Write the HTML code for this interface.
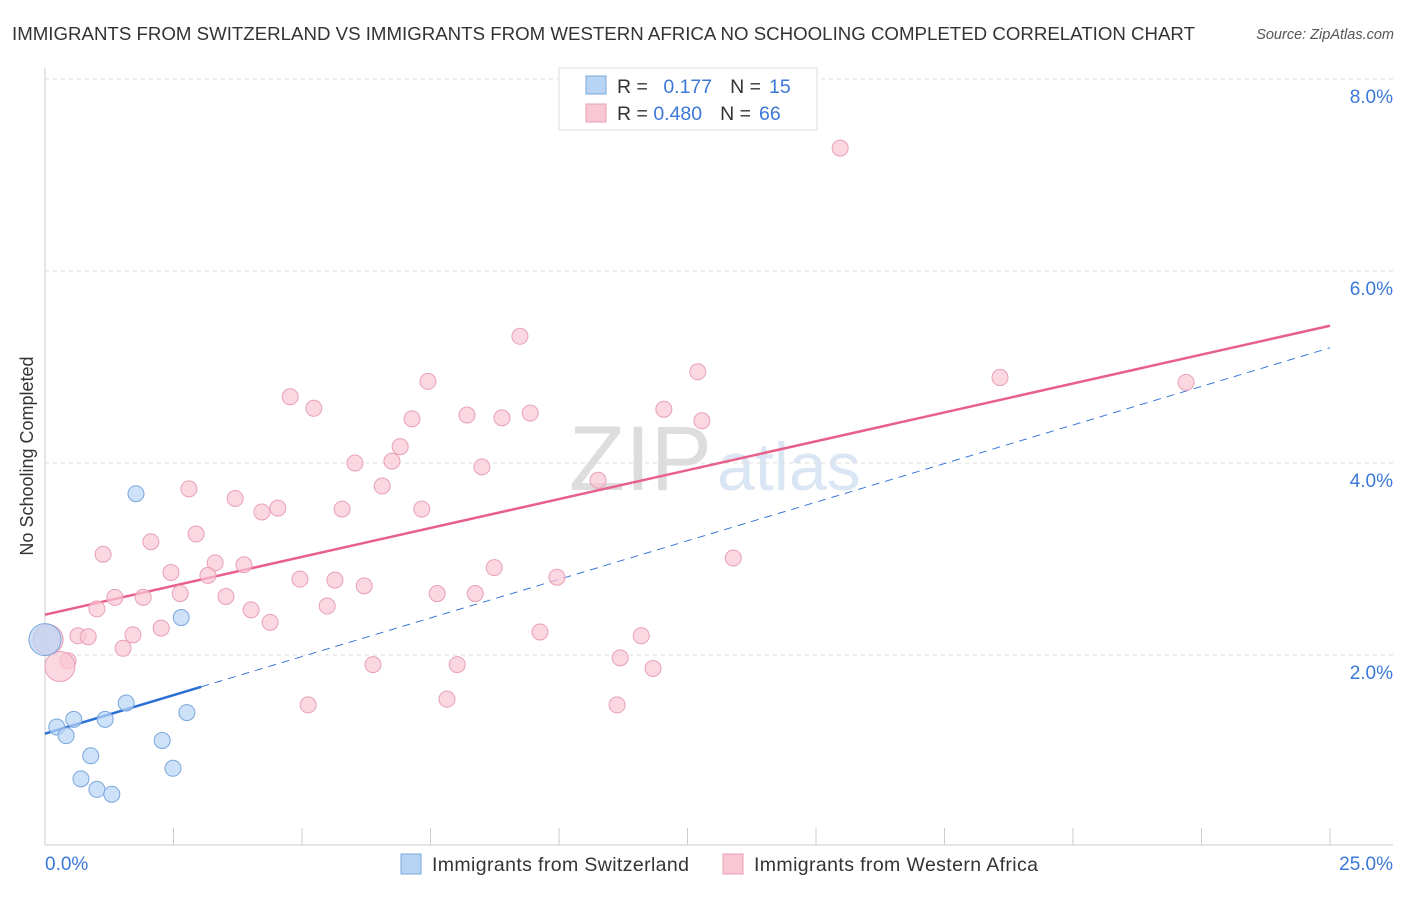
<!DOCTYPE html>
<html><head><meta charset="utf-8"><style>
body{margin:0;background:#fff;font-family:"Liberation Sans",sans-serif;}
svg text{font-family:"Liberation Sans",sans-serif;}
</style></head><body>
<svg width="1406" height="892" viewBox="0 0 1406 892">
<text x="12" y="40" font-size="18" fill="#333" textLength="1183" lengthAdjust="spacingAndGlyphs">IMMIGRANTS FROM SWITZERLAND VS IMMIGRANTS FROM WESTERN AFRICA NO SCHOOLING COMPLETED CORRELATION CHART</text>
<text x="1394" y="39" font-size="14.5" fill="#555" font-style="italic" text-anchor="end">Source: ZipAtlas.com</text>
<text x="712" y="490" font-size="92" fill="#ddd" font-family="Liberation Serif" text-anchor="end">ZIP</text>
<text x="717" y="490" font-size="68" fill="#dbe6f5">atlas</text>
<g id="grid"></g>
<g id="axes"></g>
<g id="trend"></g>
<g id="pts"></g>
<text x="33" y="456" font-size="18" fill="#333" text-anchor="middle" transform="rotate(-90 33 456)">No Schooling Completed</text>
<g>
<rect x="559" y="68" width="258" height="62" fill="#fff" stroke="#ddd"/>
<rect x="586" y="76" width="20" height="18" fill="#b8d4f5" stroke="#7aa6dd"/>
<rect x="586" y="104" width="20" height="18" fill="#f9c6d4" stroke="#e8a0b6"/>
<text x="617" y="93" font-size="19.5" fill="#333">R = <tspan fill="#3c78d8" dx="10">0.177</tspan><tspan dx="18">N =</tspan><tspan fill="#3c78d8" dx="8">15</tspan></text>
<text x="617" y="120" font-size="19.5" fill="#333">R = <tspan fill="#3c78d8">0.480</tspan><tspan dx="18">N =</tspan><tspan fill="#3c78d8" dx="8">66</tspan></text>
</g>
<g>
<rect x="401" y="854" width="20" height="20" fill="#b8d4f5" stroke="#7aa6dd"/>
<text x="432" y="871" font-size="19.5" fill="#333" textLength="257">Immigrants from Switzerland</text>
<rect x="723" y="854" width="20" height="20" fill="#f9c6d4" stroke="#e8a0b6"/>
<text x="754" y="871" font-size="19.5" fill="#333" textLength="284">Immigrants from Western Africa</text>
</g>
</svg>
<script>
const xTicks=[0,2.5,5,7.5,10,12.5,15,17.5,20,22.5,25];
const yTicks=[2,4,6,8];
const yTickLabels=["2.0%","4.0%","6.0%","8.0%"];
const xTickLabels=["0.0%","25.0%"];
const pinkX=[15.47,9.24,12.70,18.58,22.20,7.45,4.77,5.23,12.04,8.21,8.89,9.44,7.14,12.78,6.91,6.75,6.03,8.50,6.56,10.76,2.80,3.70,4.53,4.22,5.78,7.33,2.94,2.06,1.13,13.39,3.31,3.87,2.45,8.74,3.17,4.96,5.64,9.96,6.21,2.63,1.36,1.91,3.52,7.63,8.37,1.01,5.49,4.01,4.38,2.26,1.71,0.64,0.84,9.63,11.60,1.52,0.45,11.19,8.02,6.38,11.83,7.82,5.12,11.13];
const pinkY=[7.28,5.32,4.95,4.89,4.84,4.85,4.69,4.57,4.56,4.50,4.47,4.52,4.46,4.44,4.17,4.02,4.00,3.96,3.76,3.82,3.73,3.63,3.53,3.49,3.52,3.52,3.26,3.18,3.05,3.01,2.96,2.94,2.86,2.91,2.83,2.79,2.78,2.81,2.72,2.64,2.60,2.60,2.61,2.64,2.64,2.48,2.51,2.47,2.34,2.28,2.21,2.20,2.19,2.24,2.20,2.07,1.94,1.97,1.90,1.90,1.86,1.54,1.48,1.48];
const pinkBigX=[0.29,0.06];
const pinkBigY=[1.88,2.16];
const blueX=[1.77,2.65,1.58,0.56,0.23,1.17,2.76,0.41,2.28,0.89,2.49,0.70,1.01,1.30];
const blueY=[3.68,2.39,1.50,1.33,1.25,1.33,1.40,1.16,1.11,0.95,0.82,0.71,0.60,0.55];
const blueBigX=[0];
const blueBigY=[2.16];
const pinkTrend=[2.42,5.43];
const blueTrend=[1.18,5.20];
const blueSolidEnd=3.04;
const X=v=>45+v*51.4, Y=v=>847-v*96;
const NS="http://www.w3.org/2000/svg";
function mk(p,t,a){const e=document.createElementNS(NS,t);for(const k in a)e.setAttribute(k,a[k]);p.appendChild(e);return e;}
const grid=document.getElementById('grid'),axes=document.getElementById('axes'),trend=document.getElementById('trend'),pts=document.getElementById('pts');
yTicks.forEach((v,i)=>{
 const l=mk(grid,'line',{x1:45,x2:1393,y1:Y(v),y2:Y(v),stroke:'#ddd','stroke-dasharray':'4,4'});
 
 
 const t=mk(axes,'text',{x:1393,y:Y(v)+24,'font-size':19,fill:'#3c78d8','text-anchor':'end'});t.textContent=yTickLabels[i];
 
 
});
mk(axes,'line',{x1:45,x2:45,y1:68,y2:845,stroke:'#ccc'});
mk(axes,'line',{x1:45,x2:1393,y1:845,y2:845,stroke:'#ccc'});
xTicks.forEach(v=>{const l=mk(axes,'line',{x1:X(v),x2:X(v),y1:828,y2:845,stroke:'#ccc'});
 
 });
const t0=mk(axes,'text',{x:45,y:870,'font-size':19,fill:'#3c78d8'});t0.textContent=xTickLabels[0];


const t1=mk(axes,'text',{x:1393,y:870,'font-size':19,fill:'#3c78d8','text-anchor':'end'});t1.textContent=xTickLabels[1];


function dot(x,y,r,fill,stroke,name){const c=mk(pts,'circle',{cx:X(x),cy:Y(y),r:r,fill:fill,stroke:stroke,'stroke-width':1,'fill-opacity':0.7});
 
 }
pinkX.forEach((x,i)=>dot(x,pinkY[i],8,'#f9c6d4','#e8a0b6','point-western-africa'));
pinkBigX.forEach((x,i)=>dot(x,pinkBigY[i],15,'#f9c6d4','#e8a0b6','point-western-africa'));
blueBigX.forEach((x,i)=>dot(x,blueBigY[i],16,'#b8d4f5','#7aa6dd','point-switzerland'));
blueX.forEach((x,i)=>dot(x,blueY[i],8,'#b8d4f5','#7aa6dd','point-switzerland'));
const bAt=v=>blueTrend[0]+(blueTrend[1]-blueTrend[0])*v/25;
const l1=mk(trend,'line',{x1:X(0),y1:Y(pinkTrend[0]),x2:X(25),y2:Y(pinkTrend[1]),stroke:'#e8608a','stroke-width':2.5});


const l2=mk(trend,'line',{x1:X(blueSolidEnd),y1:Y(bAt(blueSolidEnd)),x2:X(25),y2:Y(bAt(25)),stroke:'#3c78d8','stroke-width':1,'stroke-dasharray':'8,6'});


const l3=mk(trend,'line',{x1:X(0),y1:Y(bAt(0)),x2:X(blueSolidEnd),y2:Y(bAt(blueSolidEnd)),stroke:'#2a6fd6','stroke-width':2.5});


</script>
</body></html>
